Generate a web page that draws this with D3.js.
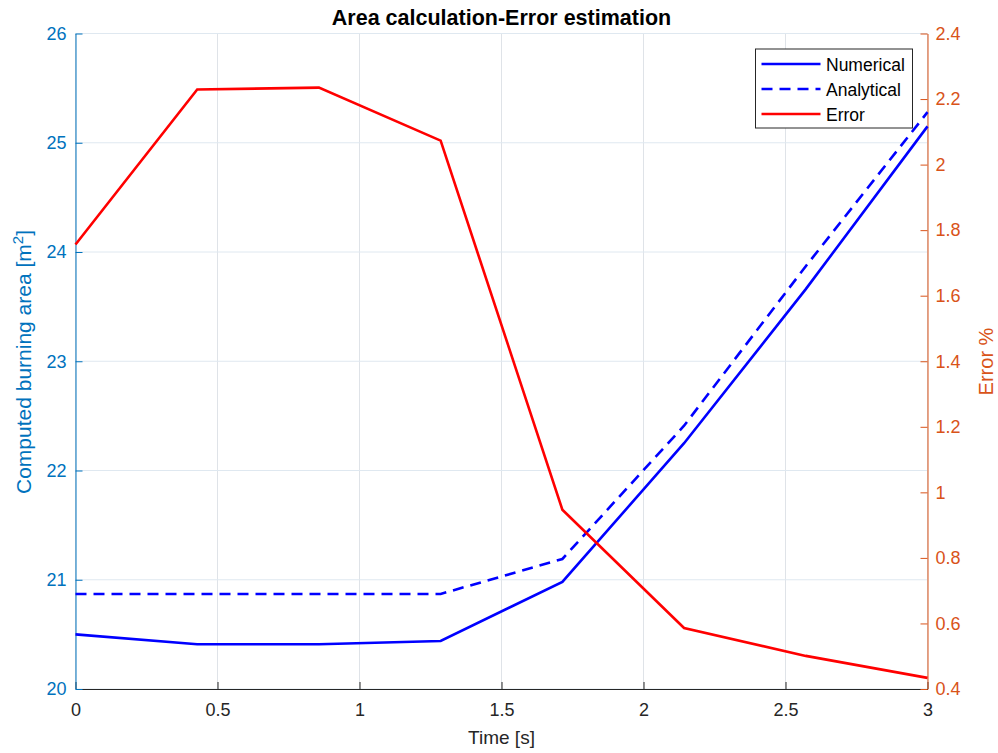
<!DOCTYPE html>
<html>
<head>
<meta charset="utf-8">
<script src="https://cdn.jsdelivr.net/npm/d3@7"></script>
<style>
    body { margin: 0; background: #fff; }
    svg { font-family: "Liberation Sans", Arial, sans-serif; }
</style>
</head>
<body>
<svg id="chart"></svg>
<script>
// Sample times (8 points, step 3/7)
const times = [0, 3 / 7, 6 / 7, 9 / 7, 12 / 7, 15 / 7, 18 / 7, 3];
const numerical = [20.50, 20.41, 20.41, 20.44, 20.98, 22.25, 23.66, 25.15];
const analytical = [20.87, 20.87, 20.87, 20.87, 21.19, 22.41, 23.87, 25.28];
const errorPct = [1.756, 2.229, 2.235, 2.073, 0.947, 0.586, 0.501, 0.434];

const xTicks = [0, 0.5, 1, 1.5, 2, 2.5, 3];
const leftTicks = [20, 21, 22, 23, 24, 25, 26];
const rightTicks = [0.4, 0.6, 0.8, 1, 1.2, 1.4, 1.6, 1.8, 2, 2.2, 2.4];

const width = 998, height = 753;
const margin = { top: 33.5, right: 70.5, bottom: 64, left: 75.5 };
const innerW = width - margin.left - margin.right;
const innerH = height - margin.top - margin.bottom;

const blueAxis = '#0072BD';
const orangeAxis = '#D95319';
const tickFont = '18px';
const dashed = '11,7';

const svg = d3.select('#chart')
    .attr('width', width)
    .attr('height', height);

const chart = svg.append('g')
    .attr('transform', `translate(${margin.left}, ${margin.top})`);

const x = d3.scaleLinear().domain([0, 3]).range([0, innerW]);
const yLeft = d3.scaleLinear().domain([20, 26]).range([innerH, 0]);
const yRight = d3.scaleLinear().domain([0.4, 2.4]).range([innerH, 0]);

// Grid
chart.append('g')
    .selectAll('line')
    .data(xTicks)
    .join('line')
    .attr('x1', d => x(d)).attr('x2', d => x(d))
    .attr('y1', 0).attr('y2', innerH)
    .attr('stroke', '#dfe3e8')
    .attr('stroke-width', 1);

chart.append('g')
    .selectAll('line')
    .data(leftTicks)
    .join('line')
    .attr('x1', 0).attr('x2', innerW)
    .attr('y1', d => yLeft(d)).attr('y2', d => yLeft(d))
    .attr('stroke', '#dfe8f0')
    .attr('stroke-width', 1);

// Axes
const xAxis = d3.axisBottom(x).tickValues(xTicks).tickSizeInner(-7).tickSizeOuter(0).tickPadding(14)
    .tickFormat(d3.format('~g'));
const xAxisG = chart.append('g')
    .attr('transform', `translate(0, ${innerH})`)
    .call(xAxis);
xAxisG.select('.domain').attr('stroke', '#262626');
xAxisG.selectAll('.tick line').attr('stroke', '#262626');
xAxisG.selectAll('text').attr('fill', '#262626').style('font-size', tickFont);

const leftAxis = d3.axisLeft(yLeft).tickValues(leftTicks).tickSizeInner(-7).tickSizeOuter(0).tickPadding(9)
    .tickFormat(d3.format('~g'));
const leftG = chart.append('g').call(leftAxis);
leftG.select('.domain').attr('stroke', blueAxis);
leftG.selectAll('.tick line').attr('stroke', blueAxis);
leftG.selectAll('text').attr('fill', blueAxis).style('font-size', tickFont);

const rightAxis = d3.axisRight(yRight).tickValues(rightTicks).tickSizeInner(-7).tickSizeOuter(0).tickPadding(8)
    .tickFormat(d3.format('~g'));
const rightG = chart.append('g')
    .attr('transform', `translate(${innerW}, 0)`)
    .call(rightAxis);
rightG.select('.domain').attr('stroke', orangeAxis);
rightG.selectAll('.tick line').attr('stroke', orangeAxis);
rightG.selectAll('text').attr('fill', orangeAxis).style('font-size', tickFont);

// Lines
const lineL = d3.line().x((d, i) => x(times[i])).y(d => yLeft(d));
const lineR = d3.line().x((d, i) => x(times[i])).y(d => yRight(d));

chart.append('path').datum(numerical)
    .attr('d', lineL).attr('fill', 'none')
    .attr('stroke', '#0000ff').attr('stroke-width', 2.6);

chart.append('path').datum(analytical)
    .attr('d', lineL).attr('fill', 'none')
    .attr('stroke', '#0000ff').attr('stroke-width', 2.6)
    .attr('stroke-dasharray', dashed);

chart.append('path').datum(errorPct)
    .attr('d', lineR).attr('fill', 'none')
    .attr('stroke', '#ff0000').attr('stroke-width', 2.6);

// Title and labels
svg.append('text')
    .attr('x', margin.left + innerW / 2).attr('y', 25)
    .attr('text-anchor', 'middle')
    .style('font-size', '21.5px').style('font-weight', 'bold')
    .attr('fill', '#000')
    .text('Area calculation-Error estimation');

svg.append('text')
    .attr('x', margin.left + innerW / 2).attr('y', 744)
    .attr('text-anchor', 'middle')
    .style('font-size', '19px')
    .attr('fill', '#262626')
    .text('Time [s]');

const yLab = svg.append('text')
    .attr('transform', `translate(31, 362) rotate(-90)`)
    .attr('text-anchor', 'middle')
    .style('font-size', '21px')
    .attr('fill', blueAxis);
yLab.append('tspan').text('Computed burning area [m');
yLab.append('tspan').attr('dy', -8).style('font-size', '15px').text('2');
yLab.append('tspan').attr('dy', 8).text(']');

svg.append('text')
    .attr('transform', `translate(993, 361.5) rotate(-90)`)
    .attr('text-anchor', 'middle')
    .style('font-size', '20px')
    .attr('fill', orangeAxis)
    .text('Error %');

// Legend
const legendItems = [
    { label: 'Numerical', dash: null, color: '#0000ff' },
    { label: 'Analytical', dash: dashed, color: '#0000ff' },
    { label: 'Error', dash: null, color: '#ff0000' }
];

const legend = svg.append('g').attr('transform', 'translate(755.5, 49)');
legend.append('rect')
    .attr('width', 157).attr('height', 79)
    .attr('fill', '#fff').attr('stroke', '#262626').attr('stroke-width', 1);

legendItems.forEach((d, i) => {
    const yy = 15 + i * 25;
    legend.append('line')
        .attr('x1', 6).attr('x2', 65)
        .attr('y1', yy).attr('y2', yy)
        .attr('stroke', d.color).attr('stroke-width', 2.6)
        .attr('stroke-dasharray', d.dash);
    legend.append('text')
        .attr('x', 70.5).attr('y', yy + 6.5)
        .style('font-size', '17.5px')
        .attr('fill', '#000')
        .text(d.label);
});
</script>
</body>
</html>
